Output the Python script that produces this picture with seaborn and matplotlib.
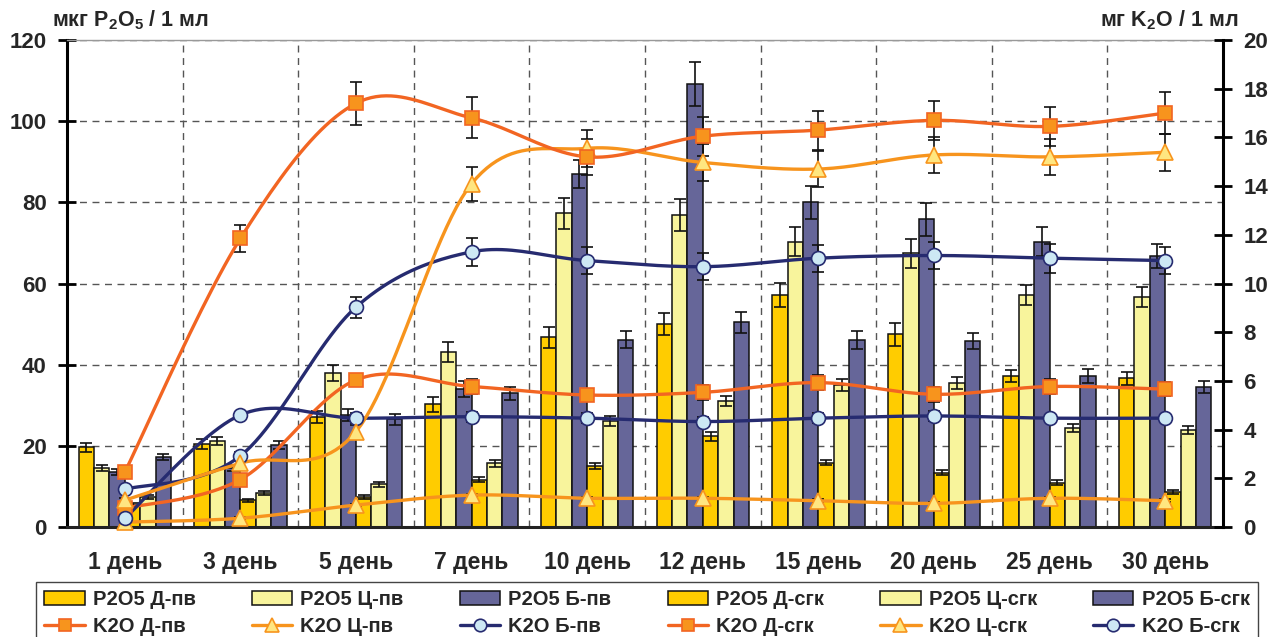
import numpy as np
import pandas as pd
import matplotlib
matplotlib.use("Agg")
import matplotlib.pyplot as plt
import seaborn as sns
from matplotlib.lines import Line2D
from matplotlib.patches import Patch

# ---------------- data ----------------
days = ["1 день", "3 день", "5 день", "7 день", "10 день",
        "12 день", "15 день", "20 день", "25 день", "30 день"]

# P2O5, мкг / 1 мл (left axis)
p_d_pv = [19.6, 20.4, 27.2, 30.2, 46.7, 50.0, 57.2, 47.5, 37.2, 36.6]
p_c_pv = [14.5, 21.2, 38.0, 43.2, 77.3, 76.9, 70.3, 67.4, 57.2, 56.6]
p_b_pv = [13.6, 14.5, 27.5, 34.0, 87.0, 109.2, 80.0, 75.8, 70.3, 66.8]
p_d_sgk = [5.5, 6.6, 7.3, 11.7, 15.0, 22.3, 15.8, 13.4, 10.9, 8.7]
p_c_sgk = [7.4, 8.3, 10.5, 15.7, 26.1, 31.0, 35.0, 35.4, 24.5, 23.9]
p_b_sgk = [17.3, 20.2, 26.5, 32.9, 46.2, 50.4, 46.1, 45.8, 37.2, 34.4]

p_d_pv_err = [1.0, 1.2, 1.5, 1.8, 2.5, 2.8, 3.0, 2.8, 1.5, 1.5]
p_c_pv_err = [0.8, 1.0, 2.0, 2.5, 3.8, 4.0, 3.5, 3.5, 2.5, 2.5]
p_b_pv_err = [0.7, 0.8, 1.5, 2.0, 3.5, 5.5, 4.0, 4.0, 3.5, 3.0]
p_d_sgk_err = [0.4, 0.4, 0.5, 0.6, 0.7, 1.0, 0.6, 0.6, 0.6, 0.5]
p_c_sgk_err = [0.4, 0.5, 0.6, 0.8, 1.2, 1.2, 1.5, 1.5, 1.0, 1.0]
p_b_sgk_err = [0.8, 1.0, 1.3, 1.5, 2.2, 2.5, 2.2, 2.0, 1.8, 1.5]

# K2O, мг / 1 мл (right axis)
k_d_pv = [2.25, 11.85, 17.4, 16.8, 15.2, 16.05, 16.3, 16.7, 16.45, 17.0]
k_c_pv = [1.1, 2.62, 3.92, 14.1, 15.55, 14.97, 14.7, 15.28, 15.2, 15.39]
k_b_pv = [1.55, 2.92, 9.03, 11.3, 10.94, 10.69, 11.04, 11.15, 11.04, 10.94]
k_d_sgk = [0.77, 1.95, 6.04, 5.77, 5.42, 5.53, 5.93, 5.45, 5.77, 5.66]
k_c_sgk = [0.2, 0.36, 0.9, 1.31, 1.18, 1.18, 1.08, 0.97, 1.18, 1.08]
k_b_sgk = [0.36, 4.6, 4.47, 4.53, 4.47, 4.33, 4.47, 4.56, 4.47, 4.47]

k_d_pv_err = [0.15, 0.55, 0.88, 0.84, 0.75, 0.8, 0.8, 0.8, 0.8, 0.85]
k_c_pv_err = [0.1, 0.2, 0.25, 0.7, 0.75, 0.75, 0.75, 0.75, 0.75, 0.75]
k_b_pv_err = [0.1, 0.15, 0.43, 0.57, 0.55, 0.55, 0.55, 0.55, 0.6, 0.55]
k_d_sgk_err = [0.1, 0.1, 0.25, 0.3, 0.25, 0.3, 0.3, 0.3, 0.3, 0.3]
k_c_sgk_err = [0.05] * 10
k_b_sgk_err = [0.05, 0.1, 0.2, 0.2, 0.2, 0.2, 0.2, 0.2, 0.15, 0.15]

bar_labels = ["P2O5 Д-пв", "P2O5 Ц-пв", "P2O5 Б-пв",
              "P2O5 Д-сгк", "P2O5 Ц-сгк", "P2O5 Б-сгк"]
line_labels = ["K2O Д-пв", "K2O Ц-пв", "K2O Б-пв",
               "K2O Д-сгк", "K2O Ц-сгк", "K2O Б-сгк"]

# ---------------- style ----------------
sns.set_style("white")
plt.rcParams["font.family"] = ["Liberation Sans", "DejaVu Sans"]
plt.rcParams["font.weight"] = "bold"
plt.rcParams["mathtext.fontset"] = "custom"
plt.rcParams["mathtext.rm"] = "Liberation Sans:bold"
plt.rcParams["mathtext.it"] = "Liberation Sans:bold"
plt.rcParams["mathtext.bf"] = "Liberation Sans:bold"

C_D = "#FFCC00"
C_C = "#F8F49C"
C_B = "#666699"
bar_colors = [C_D, C_C, C_B, C_D, C_C, C_B]

L_D, L_C, L_B = "#F26522", "#F7941D", "#262B70"
M_D, M_C, M_B = "#F7941D", "#FFE680", "#CDE8F4"
line_styles = [
    dict(color=L_D, marker="s", mfc=M_D, mec=L_D, ms=10),
    dict(color=L_C, marker="^", mfc=M_C, mec=L_C, ms=11),
    dict(color=L_B, marker="o", mfc=M_B, mec=L_B, ms=10),
]
line_styles = line_styles + line_styles

# ---------------- figure ----------------
fig = plt.figure(figsize=(12.72, 6.37), dpi=100)
fig.subplots_adjust(left=67 / 1272, right=1223 / 1272,
                    top=1 - 40 / 637, bottom=1 - 527 / 637)
ax = fig.add_subplot(111)

bar_vals = [p_d_pv, p_c_pv, p_b_pv, p_d_sgk, p_c_sgk, p_b_sgk]
bar_errs = [p_d_pv_err, p_c_pv_err, p_b_pv_err, p_d_sgk_err, p_c_sgk_err, p_b_sgk_err]
df = pd.DataFrame({
    "day": np.tile(days, 6),
    "series": np.repeat(bar_labels, len(days)),
    "value": np.concatenate(bar_vals),
})
sns.barplot(data=df, x="day", y="value", hue="series", order=days,
            hue_order=bar_labels, palette=dict(zip(bar_labels, bar_colors)),
            errorbar=None, width=0.8, edgecolor="#111111", linewidth=1.1,
            saturation=1, legend=False, ax=ax, zorder=2)

for cont, errs, vals in zip(ax.containers, bar_errs, bar_vals):
    xs = [b.get_x() + b.get_width() / 2 for b in cont]
    ax.errorbar(xs, vals, yerr=errs, fmt="none", ecolor="#111111",
                elinewidth=1.2, capsize=4, capthick=1.2, zorder=3)

ax.set_xlim(-0.5, len(days) - 0.5)
ax.set_ylim(0, 120)
ax.set_yticks(np.arange(0, 121, 20))
ax.set_xticks(np.arange(-0.5, len(days), 1), minor=True)
ax.set_xlabel("")
ax.set_ylabel("")
ax.set_axisbelow(True)
ax.yaxis.grid(True, which="major", linestyle=(0, (5, 4)), color="#555555", linewidth=1.0)
ax.xaxis.grid(True, which="minor", linestyle=(0, (5, 4)), color="#555555", linewidth=1.0)
ax.xaxis.grid(False, which="major")
ax.tick_params(axis="x", which="major", length=0, labelsize=16.5, pad=17)
ax.tick_params(axis="x", which="minor", direction="inout", length=11, width=2, color="black")
ax.tick_params(axis="y", direction="inout", length=13, width=2, color="black",
               labelsize=16, pad=8)
for lab in ax.get_xticklabels() + ax.get_yticklabels():
    lab.set_fontweight("bold")
ax.spines["left"].set_color("black")
ax.spines["left"].set_linewidth(2.2)
ax.spines["bottom"].set_color("#222222")
ax.spines["bottom"].set_linewidth(2.2)
ax.spines["top"].set_color("#999999")
ax.spines["top"].set_linewidth(1.0)
ax.spines["right"].set_visible(False)

# ---------------- K2O lines ----------------
ax2 = ax.twinx()
ax2.set_ylim(0, 20)
ax2.set_yticks(np.arange(0, 21, 2))
for s in ["left", "top", "bottom"]:
    ax2.spines[s].set_visible(False)
ax2.spines["right"].set_color("black")
ax2.spines["right"].set_linewidth(2.2)
ax2.tick_params(axis="y", direction="inout", length=13, width=2, color="black",
                labelsize=16, pad=8)
for lab in ax2.get_yticklabels():
    lab.set_fontweight("bold")


def smooth_path(x, y, n=24):
    """Bezier smoothing for drawing (Excel-like smoothed line)."""
    pts = np.column_stack([x, y]).astype(float)
    P = np.vstack([pts[0], pts, pts[-1]])
    out = []
    t = np.linspace(0, 1, n)[:, None]
    for i in range(1, len(P) - 2):
        p0, p1, p2, p3 = P[i - 1], P[i], P[i + 1], P[i + 2]
        c1 = p1 + (p2 - p0) / 6
        c2 = p2 - (p3 - p1) / 6
        seg = (1 - t) ** 3 * p1 + 3 * (1 - t) ** 2 * t * c1 + 3 * (1 - t) * t ** 2 * c2 + t ** 3 * p2
        out.append(seg if i == 1 else seg[1:])
    return np.vstack(out)


line_vals = [k_d_pv, k_c_pv, k_b_pv, k_d_sgk, k_c_sgk, k_b_sgk]
line_errs = [k_d_pv_err, k_c_pv_err, k_b_pv_err, k_d_sgk_err, k_c_sgk_err, k_b_sgk_err]
xpos = np.arange(len(days))
draw_order = [4, 3, 5, 2, 1, 0]
for i in draw_order:
    vals, errs, st = line_vals[i], line_errs[i], line_styles[i]
    ax2.errorbar(xpos, vals, yerr=errs, fmt="none", ecolor="#111111",
                 elinewidth=1.2, capsize=4.5, capthick=1.2, zorder=3)
    sp = smooth_path(xpos, vals)
    ax2.plot(sp[:, 0], sp[:, 1], color=st["color"], lw=2.4, zorder=4,
             solid_capstyle="round")
    ax2.plot(xpos, vals, linestyle="none", marker=st["marker"], ms=st["ms"],
             mfc=st["mfc"], mec=st["mec"], mew=1.2, zorder=5, clip_on=False)

# ---------------- axis titles ----------------
fig.text(52 / 1272, 1 - 20 / 637, r"мкг P$_2$O$_5$ / 1 мл", ha="left", va="center",
         fontsize=15.5, fontweight="bold")
fig.text(1238 / 1272, 1 - 20 / 637, r"мг K$_2$O / 1 мл", ha="right", va="center",
         fontsize=15.5, fontweight="bold")

# ---------------- legend ----------------
handles, labels = [], []
for j in range(6):
    handles.append(Patch(facecolor=bar_colors[j], edgecolor="#111111", linewidth=1.1))
    labels.append(bar_labels[j])
    st = line_styles[j]
    handles.append(Line2D([0], [0], color=st["color"], lw=2.4, marker=st["marker"],
                          ms=st["ms"] - 1, mfc=st["mfc"], mec=st["mec"], mew=1.2))
    labels.append(line_labels[j])

leg = fig.legend(handles, labels, loc="upper left", ncol=6, mode="expand",
                 bbox_to_anchor=(36 / 1272, 1 - 582 / 637, (1258 - 36) / 1272, 0),
                 frameon=True, fancybox=False, framealpha=1, edgecolor="#444444",
                 prop=dict(size=14.5, weight="bold"), handlelength=2.0,
                 handletextpad=0.4, labelspacing=0.36, borderpad=0.42,
                 borderaxespad=0, columnspacing=0.8)
leg.get_frame().set_linewidth(1.0)

fig.savefig("out.png", dpi=100)
